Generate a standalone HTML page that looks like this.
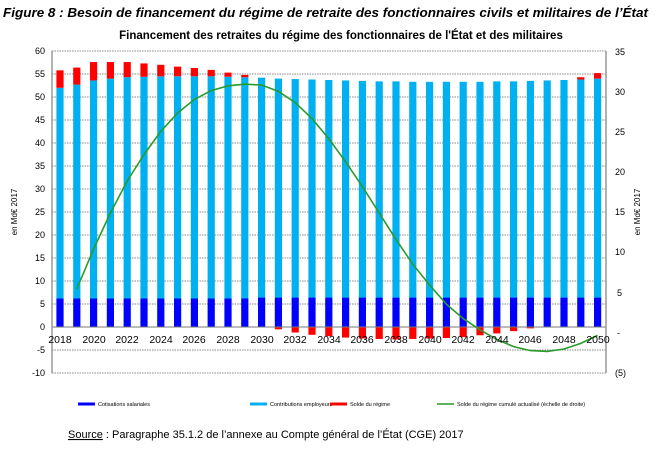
<!DOCTYPE html>
<html><head><meta charset="utf-8"><style>
body{margin:0;background:#fff;width:661px;height:456px;overflow:hidden;font-family:"Liberation Sans",sans-serif}
</style></head><body>
<svg id="s" width="661" height="456" xmlns="http://www.w3.org/2000/svg" font-family="Liberation Sans, sans-serif">
<text x="3" y="17" font-size="13" font-weight="bold" font-style="italic" textLength="645" lengthAdjust="spacingAndGlyphs">Figure 8 : Besoin de financement du régime de retraite des fonctionnaires civils et militaires de l’État</text>
<text x="341" y="39" font-size="11.5" font-weight="bold" text-anchor="middle">Financement  des retraites du régime des fonctionnaires  de l'État et des militaires</text>
<g id="grid"></g>
<g id="bars"></g>
<line x1="52" y1="327" x2="606" y2="327" stroke="#777" stroke-width="1"/>
<line x1="52" y1="51" x2="52" y2="373" stroke="#999" stroke-width="1.5"/>
<line x1="606" y1="51" x2="606" y2="373" stroke="#999" stroke-width="1.5"/>
<polyline id="green" fill="none" stroke="#2a9a2a" stroke-width="1.6"/>
<g font-size="9" text-anchor="end" fill="#000">
<text x="45" y="54">60</text><text x="45" y="77">55</text><text x="45" y="100">50</text><text x="45" y="123">45</text><text x="45" y="146">40</text><text x="45" y="169">35</text><text x="45" y="192">30</text><text x="45" y="215">25</text><text x="45" y="238">20</text><text x="45" y="261">15</text><text x="45" y="284">10</text><text x="45" y="307">5</text><text x="45" y="330">0</text><text x="45" y="353">-5</text><text x="45" y="376">-10</text>
</g>
<g font-size="9" fill="#000">
<text x="615" y="55">35</text><text x="615" y="95">30</text><text x="615" y="135">25</text><text x="615" y="175">20</text><text x="615" y="215">15</text><text x="615" y="255">10</text><text x="617" y="296">5</text><text x="617" y="336">-</text><text x="615" y="376">(5)</text>
</g>
<g font-size="10.5" text-anchor="middle" fill="#000">
<text x="60" y="343">2018</text><text x="94" y="343">2020</text><text x="127" y="343">2022</text><text x="161" y="343">2024</text><text x="194" y="343">2026</text><text x="228" y="343">2028</text><text x="262" y="343">2030</text><text x="295" y="343">2032</text><text x="329" y="343">2034</text><text x="362" y="343">2036</text><text x="396" y="343">2038</text><text x="430" y="343">2040</text><text x="463" y="343">2042</text><text x="497" y="343">2044</text><text x="530" y="343">2046</text><text x="564" y="343">2048</text><text x="598" y="343">2050</text>
</g>
<text transform="translate(17,212) rotate(-90)" font-size="8" text-anchor="middle">en Md€ 2017</text>
<text transform="translate(640,212) rotate(-90)" font-size="8" text-anchor="middle">en Md€ 2017</text>
<g font-size="5.5">
<line x1="78" y1="404" x2="95" y2="404" stroke="#0000ff" stroke-width="3"/><text x="98" y="406">Cotisations salariales</text>
<line x1="250" y1="404" x2="267" y2="404" stroke="#00b0f0" stroke-width="3"/><text x="270" y="406">Contributions employeurs</text>
<line x1="330" y1="404" x2="347" y2="404" stroke="#ff0000" stroke-width="3"/><text x="350" y="406">Solde du régime</text>
<line x1="437" y1="404" x2="454" y2="404" stroke="#2a9a2a" stroke-width="1.5"/><text x="457" y="406">Solde du régime cumulé actualisé (échelle de droite)</text>
</g>
<text x="68" y="438" font-size="11"><tspan text-decoration="underline">Source</tspan> : Paragraphe 35.1.2 de l’annexe au Compte général de l’État (CGE) 2017</text>
</svg>
<script>
var NS="http://www.w3.org/2000/svg";
function el(p,t,a){var e=document.createElementNS(NS,t);for(var k in a)e.setAttribute(k,a[k]);document.getElementById(p).appendChild(e);}
function Y(v){return 327-v*4.6;}
for(var v=-10;v<=60;v+=5){if(v==0)continue;el("grid","line",{x1:52,x2:606,y1:Y(v),y2:Y(v),stroke:"#888","stroke-dasharray":"1.5,1","stroke-width":1});}
var tops=[52,52.7,53.6,54,54.3,54.4,54.5,54.5,54.5,54.5,54.4,54.3,54.2,54,53.9,53.8,53.7,53.6,53.5,53.4,53.4,53.3,53.3,53.3,53.3,53.3,53.4,53.4,53.5,53.6,53.7,53.8,54];
var red=[3.8,3.7,4,3.6,3.3,2.9,2.5,2.1,1.8,1.4,0.9,0.5,0,-0.5,-1.2,-1.7,-2,-2.3,-2.5,-2.6,-2.7,-2.6,-2.5,-2.4,-2.2,-1.8,-1.4,-0.9,-0.3,0,0,0.5,1.2];
var g=[null,5.5,10.5,15,19,22.3,25.2,27.5,29.2,30.3,30.9,31.1,31,30.2,28.8,26.8,24.3,21.4,18.3,15,11.7,8.6,6,3.6,1.8,0.4,-0.8,-1.7,-2.2,-2.3,-2,-1.3,-0.3];
var pts=[];
for(var i=0;i<33;i++){var cx=60+i*16.8,x=cx-3.6,w=7.2;var db=i<12?6.2:6.4;
el("bars","rect",{x:x,y:Y(db),width:w,height:db*4.6,fill:"#0000ff"});
el("bars","rect",{x:x,y:Y(tops[i]),width:w,height:(tops[i]-db)*4.6,fill:"#00b0f0"});
var r=red[i];if(r>0)el("bars","rect",{x:x,y:Y(tops[i]+r),width:w,height:r*4.6,fill:"#ff0000"});
else if(r<0)el("bars","rect",{x:x,y:327,width:w,height:-r*4.6,fill:"#ff0000"});
if(g[i]!==null)pts.push(cx+","+(333-8*g[i]));}
document.getElementById("green").setAttribute("points",pts.join(" "));
</script>
</body></html>
